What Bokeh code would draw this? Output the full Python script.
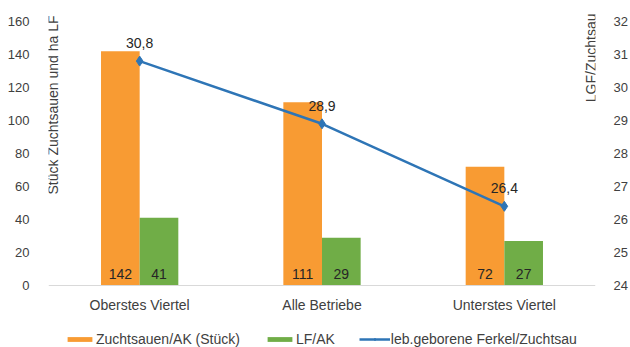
import math
from bokeh.plotting import figure
from bokeh.models import (ColumnDataSource, FactorRange, Range1d, LinearAxis,
                          FixedTicker, Legend, LegendItem, Label)
from bokeh.transform import dodge
from bokeh.core.properties import value
from bokeh.embed import file_html
from bokeh.resources import INLINE

categories = ["Oberstes Viertel", "Alle Betriebe", "Unterstes Viertel"]
sauen_pro_ak = [142, 111, 72]
lf_pro_ak = [41, 29, 27]
ferkel_pro_sau = [30.8, 28.9, 26.4]
left_ticks = [0, 20, 40, 60, 80, 100, 120, 140, 160]
right_ticks = [24, 25, 26, 27, 28, 29, 30, 31, 32]

ORANGE = "#F89B33"
GREEN = "#70AD47"
BLUE = "#2E75B6"
TXT = "#404040"
FONT = "Liberation Sans"

src = ColumnDataSource(dict(
    cat=categories,
    sauen=sauen_pro_ak,
    lf=lf_pro_ak,
    ferkel=ferkel_pro_sau,
    sauen_lbl=[str(v) for v in sauen_pro_ak],
    lf_lbl=[str(v) for v in lf_pro_ak],
    ferkel_lbl=[("%.1f" % v).replace(".", ",") for v in ferkel_pro_sau],
    zero=[0] * len(categories),
))

# frame spans whole canvas height; value 0 sits 62 px above the bottom,
# the top tick 21 px below the top (1.65 px per unit left, 33 px per unit right)
p = figure(width=630, height=347, x_range=FactorRange(factors=categories),
           y_range=Range1d(-62 / 1.65, 160 + 21 / 1.65),
           output_backend="svg", toolbar_location=None,
           min_border_left=48, min_border_right=30, min_border_top=0,
           min_border_bottom=0)
p.extra_y_ranges = {"right": Range1d(24 - 62 / 33, 32 + 21 / 33)}
p.outline_line_color = None
p.xgrid.visible = False
p.ygrid.visible = False
p.background_fill_color = "white"
p.border_fill_color = "white"

bw = 0.212
r_or = p.vbar(x=dodge("cat", -bw / 2, range=p.x_range), top="sauen", bottom=0,
              width=bw, source=src, fill_color=ORANGE, line_color=None)
r_gr = p.vbar(x=dodge("cat", bw / 2, range=p.x_range), top="lf", bottom=0,
              width=bw, source=src, fill_color=GREEN, line_color=None)
r_ln = p.line(x="cat", y="ferkel", source=src, y_range_name="right",
              line_color=BLUE, line_width=2.5)
r_mk = p.scatter(x="cat", y="ferkel", source=src, y_range_name="right",
                 marker="diamond", size=10, fill_color=BLUE, line_color=BLUE)

# value labels
p.text(x=dodge("cat", -bw / 2, range=p.x_range), y="zero", text="sauen_lbl", source=src,
       text_align="center", text_baseline="middle", y_offset=-12,
       text_font=value(FONT), text_font_size="14px", text_color="#262626")
p.text(x=dodge("cat", bw / 2, range=p.x_range), y="zero", text="lf_lbl", source=src,
       text_align="center", text_baseline="middle", y_offset=-12,
       text_font=value(FONT), text_font_size="14px", text_color="#262626")
p.text(x="cat", y="ferkel", text="ferkel_lbl", source=src, y_range_name="right",
       text_align="center", text_baseline="bottom", y_offset=-13,
       text_font=value(FONT), text_font_size="14px", text_color="#262626")

# axes
xa = p.xaxis[0]
xa.fixed_location = 0
xa.axis_line_color = "#D9D9D9"
xa.axis_line_width = 1
xa.major_tick_line_color = None
xa.minor_tick_line_color = None
xa.major_label_standoff = 5
xa.major_label_text_font = FONT
xa.major_label_text_font_size = "14px"
xa.major_label_text_color = TXT

ya = p.yaxis[0]
ya.ticker = FixedTicker(ticks=left_ticks)
ya.axis_line_color = None
ya.major_tick_line_color = None
ya.minor_tick_line_color = None
ya.major_label_standoff = 13
ya.major_label_text_font = FONT
ya.major_label_text_font_size = "13px"
ya.major_label_text_color = TXT

ra = LinearAxis(y_range_name="right", ticker=FixedTicker(ticks=right_ticks))
ra.axis_line_color = None
ra.major_tick_line_color = None
ra.minor_tick_line_color = None
ra.major_label_standoff = 12
ra.major_label_text_font = FONT
ra.major_label_text_font_size = "13px"
ra.major_label_text_color = TXT
p.add_layout(ra, "right")

# axis titles
p.add_layout(Label(x=4, y=332, x_units="screen", y_units="screen",
                   text="Stück Zuchtsauen und ha LF", angle=math.pi / 2,
                   text_align="right", text_baseline="middle",
                   text_font=FONT, text_font_size="14px", text_color=TXT))
p.add_layout(Label(x=542, y=334, x_units="screen", y_units="screen",
                   text="LGF/Zuchtsau", angle=math.pi / 2,
                   text_align="right", text_baseline="middle",
                   text_font=FONT, text_font_size="14px", text_color=TXT))

legend = Legend(items=[
    LegendItem(label="Zuchtsauen/AK (Stück)", renderers=[r_or]),
    LegendItem(label="LF/AK", renderers=[r_gr]),
    LegendItem(label="leb.geborene Ferkel/Zuchtsau", renderers=[r_ln, r_mk]),
], orientation="horizontal", location=(16, 0), padding=0, margin=0,
    spacing=24, glyph_width=31, glyph_height=6, label_height=14, label_standoff=1,
    label_text_font=FONT, label_text_font_size="14px", label_text_color=TXT,
    border_line_color=None, background_fill_alpha=0)
p.add_layout(legend, "center")

open("out.html", "w").write(file_html(p, INLINE))
